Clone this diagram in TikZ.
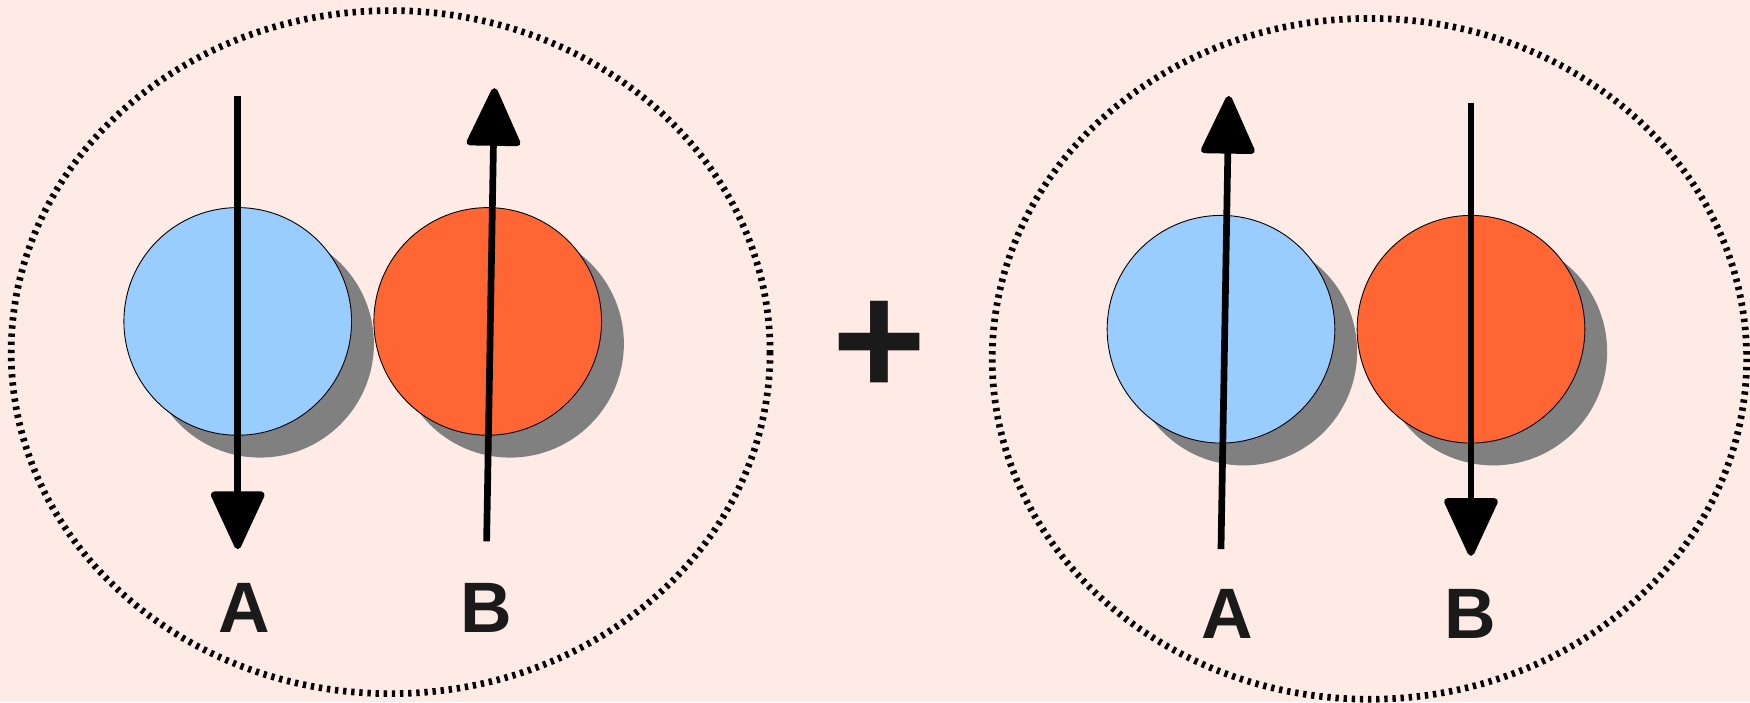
\documentclass[tikz,border=0pt]{standalone}
\usepackage{fontspec}
\setmainfont{Liberation Sans}
\usetikzlibrary{arrows.meta}
\definecolor{bgc}{HTML}{FFEBE5}
\definecolor{bluec}{HTML}{99CCFF}
\definecolor{orangec}{HTML}{FF6633}
\definecolor{shadowc}{HTML}{808080}
\definecolor{textc}{HTML}{1A1A1A}
\tikzset{
  ring/.style={draw=black, line width=6pt, dash pattern=on 3pt off 4.3pt},
  ball/.style={circle, draw=black, line width=0.8pt, minimum size=204pt, inner sep=0pt},
  shadowball/.style={circle, fill=shadowc, minimum size=204pt, inner sep=0pt},
  spin/.style={line width=6pt, -{Triangle[length=56pt, width=50pt, round]}},
  lbl/.style={text=textc, font=\bfseries\fontsize{64}{64}\selectfont, inner sep=0pt},
  plus/.style={text=textc, font=\bfseries\fontsize{144}{144}\selectfont, inner sep=0pt},
}
\begin{document}
\begin{tikzpicture}[x=1pt, y=-1pt]
\fill[bgc] (0,0) rectangle (1568,629);
\useasboundingbox (0,0) rectangle (1568,629);

% left group
\draw[ring] (350,315.5) ellipse [x radius=340, y radius=306];
\node[shadowball] (a1s) at (233,308) {};
\node[shadowball] (b1s) at (457,308) {};
\node[ball, fill=bluec] (a1) at (213,288) {};
\node[ball, fill=orangec] (b1) at (437,288) {};
\coordinate (a1top) at (213,86);
\coordinate (a1bot) at (213,492);
\coordinate (b1bot) at (436,485);
\coordinate (b1top) at (443,79);
\draw[spin] (a1top) -- (a1bot);
\draw[spin] (b1bot) -- (b1top);
\node[lbl] (la1) at (219,545) {A};
\node[lbl] (lb1) at (436,545) {B};

% plus
\node[plus] (pl) at (788,312) {+};

% right group
\draw[ring] (1227,321.5) ellipse [x radius=338, y radius=305];
\node[shadowball] (a2s) at (1114,315) {};
\node[shadowball] (b2s) at (1338,315) {};
\node[ball, fill=bluec] (a2) at (1094,295) {};
\node[ball, fill=orangec] (b2) at (1318,295) {};
\coordinate (a2bot) at (1094,492);
\coordinate (a2top) at (1101,86);
\coordinate (b2top) at (1318,92);
\coordinate (b2bot) at (1318,498);
\draw[spin] (a2bot) -- (a2top);
\draw[spin] (b2top) -- (b2bot);
\node[lbl] (la2) at (1100,550) {A};
\node[lbl] (lb2) at (1317,550) {B};
\end{tikzpicture}
\end{document}
